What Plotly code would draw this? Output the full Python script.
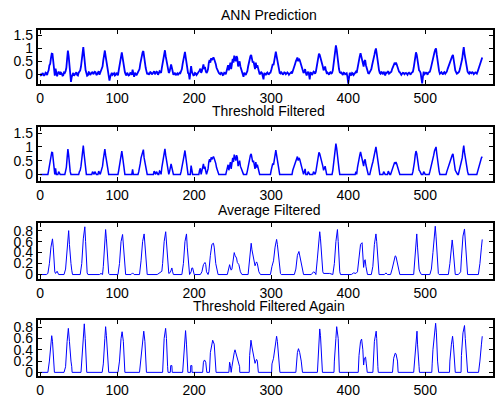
import plotly.graph_objects as go

# ---------------- data ----------------
titles = ["ANN Prediction", "Threshold Filtered", "Average Filtered", "Threshold Filtered Again"]

x_ticks = [0, 100, 200, 300, 400, 500]
y_ticks_top = [0, 0.5, 1, 1.5]
y_ticks_top_text = ["0", "0.5", "1", "1.5"]
y_ticks_bot = [0, 0.2, 0.4, 0.6, 0.8]
y_ticks_bot_text = ["0", "0.2", "0.4", "0.6", "0.8"]

# ANN prediction, even samples (x = 0, 2, 4, ...)
ann_pred_even = [
    0.02, -0.03, 0.01, -0.02, 0.04, 0.08, 0.35, 0.62, 0.79, 0.18,
    0.22, -0.08, 0.10, -0.02, 0.03, -0.04, 0.05, 0.25, 0.92, 0.35,
    -0.30, 0.02, -0.06, 0.04, -0.03, 0.06, 0.15, 0.55, 1.05, 0.40,
    0.05, -0.04, 0.07, 0.02, 0.10, 0.03, 0.08, 0.00, 0.12, 0.05,
    0.20, 0.55, 0.92, 0.50, 0.12, -0.25, 0.03, -0.02, 0.04, -0.03,
    0.02, 0.15, 0.50, 0.85, 0.45, 0.08, -0.05, 0.02, -0.03, 0.04,
    0.18, -0.10, 0.03, 0.02, 0.10, 0.40, 0.70, 0.90, 0.45, 0.12,
    0.05, 0.02, 0.06, 0.03, 0.12, 0.04, 0.08, 0.03, 0.10, 0.25,
    0.60, 0.93, 0.55, 0.20, 0.10, 0.38, 0.10, 0.02, -0.04, 0.03,
    0.00, 0.04, 0.20, 0.55, 0.87, 0.40, 0.05, -0.20, 0.32, 0.02,
    -0.03, 0.03, 0.01, 0.08, 0.22, 0.12, 0.38, 0.28, 0.05, 0.20,
    0.55, 0.62, 0.65, 0.58, 0.40, 0.15, 0.05, 0.00, 0.04, -0.02,
    0.05, 0.12, 0.35, 0.42, 0.20, 0.60, 0.72, 0.50, 0.62, 0.40,
    0.30, 0.12, -0.10, 0.03, 0.05, 0.30, 0.60, 0.75, 0.45, 0.30,
    0.45, 0.35, 0.12, 0.03, 0.05, -0.20, 0.02, 0.04, 0.01, 0.05,
    0.15, 0.40, 0.55, 0.88, 0.50, 0.15, 0.03, 0.05, 0.02, 0.06,
    0.03, 0.04, 0.02, 0.08, 0.15, 0.30, 0.50, 0.65, 0.60, 0.45,
    0.20, 0.05, 0.20, -0.05, 0.10, -0.20, 0.05, 0.02, 0.08, 0.10,
    0.50, 0.80, 0.65, 0.50, 0.15, 0.30, 0.05, 0.02, 0.06, 0.03,
    0.15, 0.55, 1.12, 0.60, 0.20, 0.05, 0.02, 0.06, 0.00, 0.04,
    -0.36, 0.05, -0.05, 0.03, 0.02, 0.10, 0.25, 0.60, 0.82, 0.50,
    0.30, 0.55, 0.20, 0.04, 0.08, 0.20, 0.45, 0.75, 1.00, 0.55,
    0.15, 0.02, 0.06, 0.10, -0.05, 0.05, 0.12, 0.04, 0.10, 0.30,
    0.42, 0.45, 0.30, 0.10, 0.04, 0.02, 0.05, 0.03, 0.02, 0.04,
    0.03, 0.05, 0.10, 0.45, 0.85, 0.55, 0.15, 0.05, -0.35, 0.10,
    0.02, 0.04, 0.06, 0.10, 0.35, 0.60, 0.85, 1.00, 0.50, 0.12,
    0.04, 0.03, 0.06, 0.02, 0.10, 0.30, 0.50, 0.65, 0.75, 0.35,
    0.10, 0.04, 0.10, 0.30, 0.60, 1.05, 0.60, 0.20, 0.05, 0.08,
    0.04, 0.06, 0.03, 0.05, 0.10, 0.30, 0.55, 0.65,
]
# ANN prediction, odd samples (x = 1, 3, 5, ...)
ann_pred_odd = [
    -0.04, 0.05, -0.06, 0.06, -0.03, 0.15, 0.40, 0.80, 0.45, -0.05,
    0.05, 0.02, 0.06, 0.06, -0.05, 0.07, 0.12, 0.60, 0.70, 0.10,
    -0.10, 0.05, -0.02, 0.08, -0.05, 0.10, 0.30, 0.80, 0.75, 0.15,
    -0.06, 0.08, -0.03, 0.09, 0.00, 0.10, -0.03, 0.07, -0.02, 0.10,
    0.30, 0.80, 0.70, 0.30, -0.05, -0.10, 0.06, 0.02, -0.05, 0.06,
    -0.04, 0.30, 0.70, 0.65, 0.20, 0.00, 0.06, -0.05, 0.05, -0.02,
    0.05, 0.06, -0.04, 0.07, 0.20, 0.60, 0.85, 0.60, 0.25, 0.00,
    -0.02, 0.08, -0.01, 0.07, 0.00, 0.10, -0.02, 0.12, 0.05, 0.45,
    0.80, 0.70, 0.35, 0.05, 0.20, 0.25, -0.02, 0.06, 0.02, -0.03,
    0.06, 0.10, 0.40, 0.70, 0.65, 0.15, 0.02, 0.05, 0.10, -0.04,
    0.05, -0.03, 0.05, 0.15, 0.05, 0.30, 0.20, 0.12, 0.10, 0.45,
    0.45, 0.55, 0.65, 0.50, 0.25, 0.10, 0.02, 0.06, -0.03, 0.06,
    0.00, 0.25, 0.15, 0.45, 0.35, 0.45, 0.60, 0.70, 0.30, 0.50,
    0.20, 0.02, 0.06, -0.03, 0.12, 0.45, 0.70, 0.55, 0.50, 0.20,
    0.25, 0.20, 0.00, 0.08, -0.05, 0.05, -0.03, 0.07, 0.00, 0.06,
    0.30, 0.35, 0.75, 0.70, 0.30, 0.05, 0.08, -0.02, 0.07, 0.00,
    0.07, -0.02, 0.06, 0.03, 0.25, 0.40, 0.60, 0.50, 0.55, 0.30,
    0.10, 0.10, 0.05, 0.05, 0.00, 0.06, -0.03, 0.10, 0.02, 0.30,
    0.70, 0.75, 0.55, 0.30, 0.20, 0.15, 0.07, -0.02, 0.08, 0.05,
    0.35, 0.90, 0.95, 0.35, 0.08, 0.07, -0.03, 0.05, 0.02, -0.10,
    -0.15, 0.02, 0.05, -0.03, 0.06, 0.05, 0.45, 0.70, 0.70, 0.35,
    0.50, 0.35, 0.10, 0.03, 0.12, 0.35, 0.60, 0.90, 0.80, 0.30,
    0.05, 0.08, 0.00, 0.03, 0.06, 0.08, 0.02, 0.06, 0.20, 0.35,
    0.40, 0.38, 0.15, 0.08, -0.02, 0.06, 0.00, 0.05, -0.02, 0.06,
    -0.02, 0.07, 0.25, 0.70, 0.75, 0.30, 0.12, -0.15, -0.10, 0.00,
    0.06, -0.02, 0.08, 0.20, 0.50, 0.70, 0.95, 0.75, 0.30, 0.02,
    0.08, -0.01, 0.08, 0.05, 0.20, 0.40, 0.55, 0.70, 0.60, 0.15,
    0.02, 0.07, 0.20, 0.45, 0.85, 0.80, 0.35, 0.10, 0.02, 0.05,
    0.08, 0.00, 0.07, 0.02, 0.20, 0.40, 0.60,
]

# Threshold filtered, even samples
thresh_even = [
    0, 0, 0, 0, 0, 0, 0.35, 0.62, 0.79, 0.18,
    0.22, 0, 0.10, 0, 0, 0, 0, 0.25, 0.92, 0.35,
    0, 0, 0, 0, 0, 0, 0.15, 0.55, 1.05, 0.40,
    0, 0, 0, 0, 0.10, 0, 0, 0, 0.12, 0,
    0.20, 0.55, 0.92, 0.50, 0.12, 0, 0, 0, 0, 0,
    0, 0.15, 0.50, 0.85, 0.45, 0, 0, 0, 0, 0,
    0.18, 0, 0, 0, 0.10, 0.40, 0.70, 0.90, 0.45, 0.12,
    0, 0, 0, 0, 0.12, 0, 0, 0, 0.10, 0.25,
    0.60, 0.93, 0.55, 0.20, 0.10, 0.38, 0.10, 0, 0, 0,
    0, 0, 0.20, 0.55, 0.87, 0.40, 0, 0, 0.32, 0,
    0, 0, 0, 0, 0.22, 0.12, 0.38, 0.28, 0, 0.20,
    0.55, 0.62, 0.65, 0.58, 0.40, 0.15, 0, 0, 0, 0,
    0, 0.12, 0.35, 0.42, 0.20, 0.60, 0.72, 0.50, 0.62, 0.40,
    0.30, 0.12, 0, 0, 0, 0.30, 0.60, 0.75, 0.45, 0.30,
    0.45, 0.35, 0.12, 0, 0, 0, 0, 0, 0, 0,
    0.15, 0.40, 0.55, 0.88, 0.50, 0.15, 0, 0, 0, 0,
    0, 0, 0, 0, 0.15, 0.30, 0.50, 0.65, 0.60, 0.45,
    0.20, 0, 0.20, 0, 0.10, 0, 0, 0, 0, 0.10,
    0.50, 0.80, 0.65, 0.50, 0.15, 0.30, 0, 0, 0, 0,
    0.15, 0.55, 1.12, 0.60, 0.20, 0, 0, 0, 0, 0,
    0, 0, 0, 0, 0, 0.10, 0.25, 0.60, 0.82, 0.50,
    0.30, 0.55, 0.20, 0, 0, 0.20, 0.45, 0.75, 1.00, 0.55,
    0.15, 0, 0, 0.10, 0, 0, 0.12, 0, 0.10, 0.30,
    0.42, 0.45, 0.30, 0.10, 0, 0, 0, 0, 0, 0,
    0, 0, 0.10, 0.45, 0.85, 0.55, 0.15, 0, 0, 0.10,
    0, 0, 0, 0.10, 0.35, 0.60, 0.85, 1.00, 0.50, 0.12,
    0, 0, 0, 0, 0.10, 0.30, 0.50, 0.65, 0.75, 0.35,
    0.10, 0, 0.10, 0.30, 0.60, 1.05, 0.60, 0.20, 0, 0,
    0, 0, 0, 0, 0.10, 0.30, 0.55, 0.65,
]
# Threshold filtered, odd samples
thresh_odd = [
    0, 0, 0, 0, 0, 0.15, 0.40, 0.80, 0.45, 0,
    0, 0, 0, 0, 0, 0, 0.12, 0.60, 0.70, 0.10,
    0, 0, 0, 0, 0, 0.10, 0.30, 0.80, 0.75, 0.15,
    0, 0, 0, 0, 0, 0.10, 0, 0, 0, 0.10,
    0.30, 0.80, 0.70, 0.30, 0, 0, 0, 0, 0, 0,
    0, 0.30, 0.70, 0.65, 0.20, 0, 0, 0, 0, 0,
    0, 0, 0, 0, 0.20, 0.60, 0.85, 0.60, 0.25, 0,
    0, 0, 0, 0, 0, 0.10, 0, 0.12, 0, 0.45,
    0.80, 0.70, 0.35, 0, 0.20, 0.25, 0, 0, 0, 0,
    0, 0.10, 0.40, 0.70, 0.65, 0.15, 0, 0, 0.10, 0,
    0, 0, 0, 0.15, 0, 0.30, 0.20, 0.12, 0.10, 0.45,
    0.45, 0.55, 0.65, 0.50, 0.25, 0.10, 0, 0, 0, 0,
    0, 0.25, 0.15, 0.45, 0.35, 0.45, 0.60, 0.70, 0.30, 0.50,
    0.20, 0, 0, 0, 0.12, 0.45, 0.70, 0.55, 0.50, 0.20,
    0.25, 0.20, 0, 0, 0, 0, 0, 0, 0, 0,
    0.30, 0.35, 0.75, 0.70, 0.30, 0, 0, 0, 0, 0,
    0, 0, 0, 0, 0.25, 0.40, 0.60, 0.50, 0.55, 0.30,
    0.10, 0.10, 0, 0, 0, 0, 0, 0.10, 0, 0.30,
    0.70, 0.75, 0.55, 0.30, 0.20, 0.15, 0, 0, 0, 0,
    0.35, 0.90, 0.95, 0.35, 0, 0, 0, 0, 0, 0,
    0, 0, 0, 0, 0, 0, 0.45, 0.70, 0.70, 0.35,
    0.50, 0.35, 0.10, 0, 0.12, 0.35, 0.60, 0.90, 0.80, 0.30,
    0, 0, 0, 0, 0, 0, 0, 0, 0.20, 0.35,
    0.40, 0.38, 0.15, 0, 0, 0, 0, 0, 0, 0,
    0, 0, 0.25, 0.70, 0.75, 0.30, 0.12, 0, 0, 0,
    0, 0, 0, 0.20, 0.50, 0.70, 0.95, 0.75, 0.30, 0,
    0, 0, 0, 0, 0.20, 0.40, 0.55, 0.70, 0.60, 0.15,
    0, 0, 0.20, 0.45, 0.85, 0.80, 0.35, 0.10, 0, 0,
    0, 0, 0, 0, 0.20, 0.40, 0.60,
]

avg_x = [0, 8, 10, 12, 14, 16, 17, 18, 19, 20, 21, 22, 24, 31, 33, 35, 37, 38, 39, 40, 41, 42,
         52, 54, 56, 58, 59, 60, 61, 62, 77, 79, 81, 82, 84, 85, 86, 88, 89, 90,
         101, 103, 105, 107, 108, 110, 111, 118, 120, 122, 129, 131, 133, 135, 136, 138, 139,
         152, 155, 158, 159, 161, 163, 164, 166, 167, 169, 170, 171, 172, 173,
         184, 186, 188, 190, 191, 193, 194, 196, 197, 198, 199, 200,
         208, 210, 212, 214, 215, 216, 218, 219, 221, 223, 225, 226, 228, 230, 231,
         243, 245, 246, 247, 248, 249, 250, 252, 253, 255, 256, 258, 260, 262,
         270, 272, 274, 275, 277, 278, 279, 280, 281, 282, 284, 286,
         299, 301, 303, 305, 307, 308, 310, 312, 313, 330, 332, 334, 336, 337, 339, 341, 342,
         352, 355, 357, 358, 360, 363, 364, 366, 367, 368, 372, 374, 376, 380,
         382, 384, 386, 387, 388, 389, 390, 404, 407, 410, 412, 414, 416, 418, 419, 420,
         421, 422, 423, 424, 425, 430, 432, 434, 436, 437, 439, 440, 447, 449, 451, 455,
         457, 459, 461, 462, 464, 466, 467, 485, 487, 489, 490, 491, 492, 493, 495,
         506, 508, 510, 513, 514, 516, 517, 518, 530, 532, 534, 535, 536, 538, 539,
         543, 545, 546, 547, 549, 551, 552, 554, 555, 569, 570, 571, 573, 574]
avg_y = [0, 0, 0.02, 0.2, 0.5, 0.65, 0.5, 0.2, 0.05, 0.02, 0.06, 0.06, 0.0, 0, 0.1, 0.55, 0.8, 0.55, 0.22, 0.2, 0.08, 0.0,
         0, 0.2, 0.65, 0.87, 0.6, 0.2, 0.03, 0, 0, 0.02, 0.0, 0.15, 0.6, 0.82, 0.65, 0.2, 0.02, 0,
         0, 0.2, 0.6, 0.73, 0.55, 0.1, 0, 0, 0.03, 0, 0, 0.25, 0.6, 0.74, 0.55, 0.1, 0,
         0, 0.03, 0.06, 0.2, 0.6, 0.78, 0.6, 0.1, 0.02, 0.04, 0.1, 0.12, 0.05, 0,
         0, 0.2, 0.6, 0.74, 0.5, 0.05, 0, 0.05, 0.12, 0.12, 0.02, 0,
         0, 0.05, 0.18, 0.22, 0.18, 0.05, 0, 0.05, 0.35, 0.55, 0.57, 0.5, 0.2, 0.02, 0,
         0, 0.15, 0.18, 0.12, 0.08, 0.1, 0.2, 0.4, 0.35, 0.3, 0.22, 0.18, 0.05, 0,
         0, 0.3, 0.57, 0.45, 0.3, 0.2, 0.16, 0.2, 0.23, 0.2, 0.05, 0,
         0, 0.15, 0.25, 0.5, 0.64, 0.55, 0.2, 0.02, 0, 0, 0.1, 0.35, 0.42, 0.35, 0.2, 0.05, 0,
         0, 0.05, 0.03, 0, 0.3, 0.78, 0.65, 0.2, 0.05, 0.02, 0.02, 0.03, 0.02, 0,
         0.2, 0.6, 0.82, 0.6, 0.3, 0.05, 0, 0, 0.03, 0.02, 0.05, 0.3, 0.55, 0.58, 0.4, 0.13,
         0.25, 0.27, 0.15, 0.05, 0, 0, 0.15, 0.55, 0.74, 0.6, 0.1, 0, 0, 0.03, 0, 0,
         0.1, 0.25, 0.34, 0.33, 0.2, 0.03, 0, 0, 0.3, 0.74, 0.5, 0.15, 0.1, 0.05, 0,
         0, 0.1, 0.4, 0.88, 0.7, 0.2, 0.02, 0, 0, 0.2, 0.5, 0.63, 0.5, 0.1, 0,
         0, 0.03, 0.05, 0.3, 0.7, 0.83, 0.6, 0.1, 0, 0, 0.1, 0.2, 0.5, 0.64]

thr2_x = [0, 10, 12, 14, 15, 16, 18, 18.5, 31, 33, 35, 36.6, 38, 39, 40, 41, 41.5,
          53, 54, 56, 57.3, 58.5, 60, 60.5, 80.5, 82, 84, 85, 86, 88, 89,
          101, 103, 105, 106.4, 108, 109.5, 110, 129, 131, 133, 134.5, 136, 137.5, 138,
          159, 159.5, 161, 162.9, 164, 165.5, 166, 169, 169.5, 171, 171.5,
          185, 186, 188, 188.8, 190, 191.8, 195.3, 195.5, 197, 197.2,
          211, 212, 213.4, 215, 216.4, 219.8, 221, 223, 224, 226, 228, 228.4,
          245, 245.5, 246, 247, 248, 249, 250, 252, 253, 255, 256, 258, 259, 259.2,
          271.5, 272, 273.7, 275, 277, 278, 279, 280, 281, 282, 283, 283.3,
          300.5, 301, 303, 305, 307, 308, 310, 311, 311.3, 332, 332.5, 334, 335.4, 337, 339, 340, 340.6,
          360, 361, 363, 364, 366, 366.5, 381.5, 382, 384, 385, 387, 388, 388.5,
          413, 414, 416, 417.4, 419, 420, 421, 422.5, 423.5, 424, 424.7,
          432, 432.5, 434, 436.3, 437, 438.5, 439, 457.5, 458, 459, 461, 462, 464, 464.8,
          485, 486, 487, 489.3, 490, 491, 492, 492.5, 508.5, 509, 510, 513.5, 514.5, 516, 517.4,
          531.5, 532, 534, 535.5, 536.5, 538.5, 539, 546.5, 547, 549, 551, 552, 554, 555,
          569.2, 570, 571, 573, 574]
thr2_y = [0, 0, 0.2, 0.5, 0.65, 0.55, 0.1, 0, 0, 0.1, 0.55, 0.78, 0.55, 0.22, 0.2, 0.1, 0,
          0, 0.2, 0.65, 0.86, 0.6, 0.2, 0, 0, 0.15, 0.6, 0.81, 0.65, 0.2, 0,
          0, 0.2, 0.6, 0.72, 0.55, 0.1, 0, 0, 0.25, 0.6, 0.73, 0.55, 0.1, 0,
          0, 0.2, 0.6, 0.78, 0.6, 0.1, 0, 0, 0.12, 0.12, 0,
          0, 0.2, 0.6, 0.74, 0.5, 0, 0, 0.12, 0.12, 0,
          0, 0.18, 0.22, 0.18, 0, 0, 0.35, 0.55, 0.57, 0.5, 0.1, 0,
          0, 0.15, 0.18, 0.12, 0, 0.1, 0.2, 0.35, 0.4, 0.3, 0.22, 0.15, 0.1, 0,
          0, 0.3, 0.57, 0.45, 0.3, 0.2, 0.16, 0.2, 0.23, 0.2, 0.1, 0,
          0, 0.15, 0.25, 0.5, 0.64, 0.55, 0.2, 0.1, 0, 0, 0.1, 0.35, 0.42, 0.35, 0.2, 0.1, 0,
          0, 0.3, 0.77, 0.65, 0.2, 0, 0, 0.2, 0.6, 0.81, 0.6, 0.3, 0,
          0, 0.3, 0.55, 0.59, 0.4, 0.13, 0.25, 0.27, 0.15, 0.1, 0,
          0, 0.15, 0.55, 0.73, 0.6, 0.1, 0, 0, 0.15, 0.25, 0.34, 0.33, 0.2, 0,
          0, 0.15, 0.3, 0.73, 0.5, 0.15, 0.1, 0, 0, 0.15, 0.4, 0.87, 0.7, 0.2, 0,
          0, 0.2, 0.5, 0.64, 0.5, 0.1, 0, 0, 0.3, 0.7, 0.83, 0.6, 0.15, 0,
          0, 0.15, 0.2, 0.5, 0.64]


def interleave(even, odd):
    out = []
    for i, v in enumerate(even):
        out.append(v)
        if i < len(odd):
            out.append(odd[i])
    return out


ann_pred = interleave(ann_pred_even, ann_pred_odd)
thresh_filtered = interleave(thresh_even, thresh_odd)
ann_x = list(range(len(ann_pred)))
thr_x = list(range(len(thresh_filtered)))

# ---------------- figure ----------------
W, H = 496, 401
boxes = [(28.3, 83.3), (127.3, 181.7), (224.3, 281.7), (323.3, 380.0)]
yranges = [[-0.38, 1.72], [-0.24, 1.71], [-0.09, 0.94], [-0.07, 0.92]]
x_left, x_right = 36, 493
title_y = [13.3, 110.7, 210.7, 308.3]

fig = go.Figure()
series = [(ann_x, ann_pred, 1.8), (thr_x, thresh_filtered, 1.5), (avg_x, avg_y, 1.0), (thr2_x, thr2_y, 1.0)]
font = dict(family="Liberation Sans, Arial, sans-serif", size=14, color="black")

for i, (xs, ys, lw) in enumerate(series):
    n = "" if i == 0 else str(i + 1)
    fig.add_trace(go.Scatter(x=xs, y=ys, mode="lines", line=dict(color="#0000ff", width=lw),
                             xaxis="x" + n, yaxis="y" + n, showlegend=False, hoverinfo="skip"))
    top, bot = boxes[i]
    axcommon = dict(showline=True, linecolor="black", linewidth=2, mirror="ticks",
                    ticks="inside", ticklen=4, tickwidth=1, tickcolor="black",
                    showgrid=False, zeroline=False, tickfont=font)
    fig.update_layout(**{
        "xaxis" + n: dict(domain=[x_left / W, x_right / W], range=[-3, 588], tickvals=x_ticks,
                          anchor="y" + n, **axcommon),
        "yaxis" + n: dict(domain=[1 - bot / H, 1 - top / H], range=yranges[i],
                          tickvals=y_ticks_top if i < 2 else y_ticks_bot,
                          ticktext=y_ticks_top_text if i < 2 else y_ticks_bot_text,
                          anchor="x" + n, **axcommon),
    })
    fig.add_annotation(text=titles[i], x=268 / W, y=1 - title_y[i] / H, xref="paper", yref="paper",
                       xanchor="center", yanchor="middle", showarrow=False, font=font)

fig.update_layout(width=W, height=H, margin=dict(l=0, r=0, t=0, b=0),
                  paper_bgcolor="white", plot_bgcolor="white")
fig.write_html("out.html")
